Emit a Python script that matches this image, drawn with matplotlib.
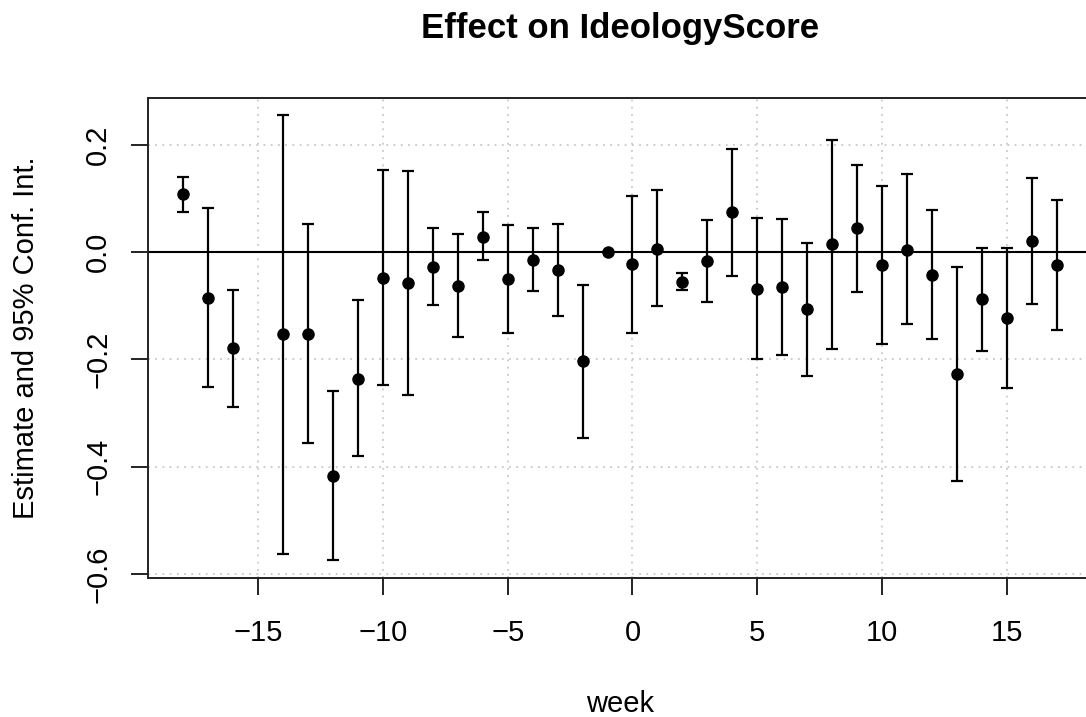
import numpy as np
import matplotlib
matplotlib.use("Agg")
import matplotlib.pyplot as plt

plt.rcParams['font.family'] = ['Liberation Sans', 'DejaVu Sans']

# week -15 has no estimate
weeks = [-18, -17, -16, -14, -13, -12, -11, -10, -9, -8, -7, -6, -5, -4, -3, -2, -1,
         0, 1, 2, 3, 4, 5, 6, 7, 8, 9, 10, 11, 12, 13, 14, 15, 16, 17]
estimate = [0.108, -0.085, -0.179, -0.153, -0.152, -0.417, -0.236, -0.048, -0.058,
            -0.027, -0.064, 0.029, -0.051, -0.014, -0.033, -0.204, 0.0,
            -0.023, 0.006, -0.055, -0.017, 0.074, -0.068, -0.066, -0.107, 0.015,
            0.044, -0.025, 0.004, -0.042, -0.227, -0.088, -0.123, 0.021, -0.024]
ci_low = [0.075, -0.251, -0.289, -0.563, -0.356, -0.575, -0.381, -0.248, -0.266,
          -0.098, -0.159, -0.014, -0.151, -0.072, -0.120, -0.347, 0.0,
          -0.150, -0.101, -0.071, -0.093, -0.045, -0.200, -0.192, -0.231, -0.181,
          -0.075, -0.171, -0.134, -0.162, -0.427, -0.184, -0.253, -0.096, -0.146]
ci_high = [0.140, 0.083, -0.071, 0.255, 0.052, -0.259, -0.090, 0.153, 0.151,
           0.045, 0.033, 0.074, 0.050, 0.044, 0.053, -0.061, 0.0,
           0.104, 0.115, -0.039, 0.060, 0.193, 0.064, 0.061, 0.016, 0.209,
           0.162, 0.123, 0.145, 0.078, -0.028, 0.007, 0.007, 0.138, 0.098]

x_ticks = [-15, -10, -5, 0, 5, 10, 15]
y_ticks = [-0.6, -0.4, -0.2, 0.0, 0.2]

x = np.array(weeks)
est = np.array(estimate)
lo = np.array(ci_low)
hi = np.array(ci_high)

fig = plt.figure(figsize=(10.86, 7.17), dpi=100)
# plot region runs a little past the right edge, as in the cropped original
ax = fig.add_axes([0.1366, 0.1935, 0.8686, 0.6705])

# R-style 4% padding on the data range
xr = x.max() - x.min()
ax.set_xlim(x.min() - 0.04 * xr, x.max() + 0.04 * xr)
yr = hi.max() - lo.min()
ax.set_ylim(lo.min() - 0.04 * yr, hi.max() + 0.04 * yr)

for xv in x_ticks:
    ax.axvline(xv, color='#c8c8c8', lw=1.3, ls=(0, (1, 3)), zorder=0)
for yv in y_ticks:
    ax.axhline(yv, color='#c8c8c8', lw=1.3, ls=(0, (1, 3)), zorder=0)

ax.axhline(0, color='black', lw=1.5, zorder=1)

ax.errorbar(x, est, yerr=[est - lo, hi - est], fmt='o', color='black',
            ms=8, ecolor='black', elinewidth=1.6, capsize=4.3, capthick=1.6,
            zorder=3)

ax.set_xticks(x_ticks)
ax.set_xticklabels([f"\u2212{abs(v)}" if v < 0 else str(v) for v in x_ticks])
ax.set_yticks(y_ticks)
ax.set_yticklabels([f"\u2212{abs(v):.1f}" if v < 0 else f"{v:.1f}" for v in y_ticks],
                   rotation=90, va='center')

ax.tick_params(axis='both', direction='out', length=12, width=1.4,
               labelsize=21, color='#222222')
ax.tick_params(axis='x', pad=17)
ax.tick_params(axis='y', pad=14)

for s in ax.spines.values():
    s.set_linewidth(1.4)
    s.set_color('#222222')

ax.set_title("Effect on IdeologyScore", fontsize=25, fontweight='bold', pad=43)
ax.set_xlabel("week", fontsize=21, labelpad=31)
ax.set_ylabel("Estimate and 95% Conf. Int.", fontsize=21, labelpad=32)

fig.savefig("out.png", dpi=100)
